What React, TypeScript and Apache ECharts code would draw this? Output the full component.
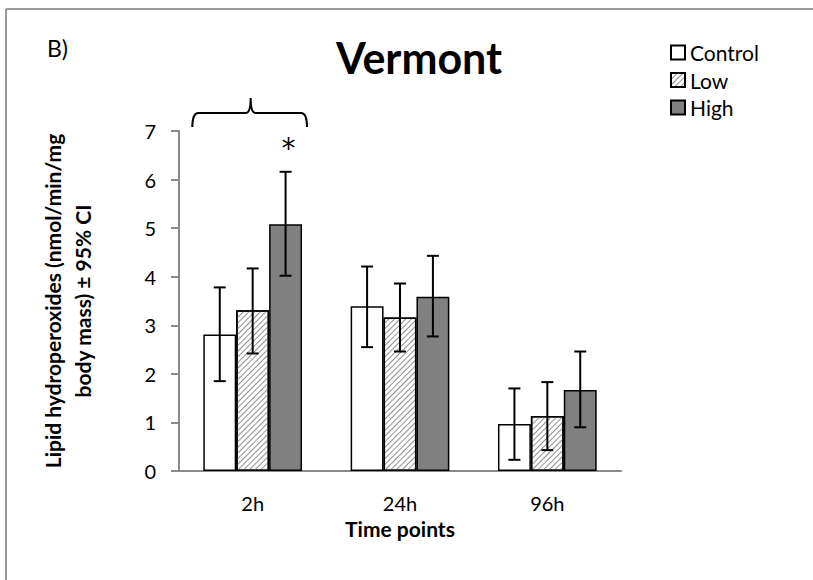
import React, { useEffect, useRef } from "react";
import * as echarts from "echarts";

const categories = ["2h", "24h", "96h"];
const seriesNames = ["Control", "Low", "High"];
const controlMean = [2.81, 3.39, 0.97];
const lowMean = [3.31, 3.16, 1.13];
const highMean = [5.08, 3.59, 1.67];
const controlLower = [1.85, 2.55, 0.23];
const controlUpper = [3.78, 4.21, 1.70];
const lowLower = [2.42, 2.46, 0.43];
const lowUpper = [4.17, 3.86, 1.83];
const highLower = [4.02, 2.77, 0.9];
const highUpper = [6.16, 4.43, 2.46];
const yTicks = [0, 1, 2, 3, 4, 5, 6, 7];

const FONT = "Lato, 'Liberation Sans', sans-serif";
const CAT_GAP = 0.33;

export default function App() {
  const ref = useRef<HTMLDivElement>(null);
  useEffect(() => {
    document.body.style.margin = "0";
    const chart = echarts.init(ref.current!, null, { renderer: "svg" });
    const means = [controlMean, lowMean, highMean];
    const lowers = [controlLower, lowLower, highLower];
    const uppers = [controlUpper, lowUpper, highUpper];
    const fills = ["#ffffff", "#ffffff", "#808080"];

    const barSeries = seriesNames.map((name, i) => ({
      name,
      type: "bar",
      data: means[i],
      barGap: "0%",
      barCategoryGap: "33%",
      itemStyle: {
        color: fills[i],
        borderColor: "#000",
        borderWidth: 1.5,
        decal:
          i === 1
            ? {
                symbol: "rect",
                symbolSize: 1,
                dashArrayX: [[1, 0]],
                dashArrayY: [1, 3],
                rotation: -Math.PI / 4,
                color: "#909090",
              }
            : "none",
      },
    }));

    const errSeries = seriesNames.map((name, i) => ({
      type: "custom",
      name: name + " CI",
      z: 5,
      data: categories.map((_, k) => [k, lowers[i][k], uppers[i][k]]),
      encode: { x: 0, y: [1, 2] },
      renderItem: (params: any, api: any) => {
        const k = api.value(0);
        const lo = api.coord([k, api.value(1)]);
        const hi = api.coord([k, api.value(2)]);
        const band = api.size([1, 0])[0];
        const bw = (band * (1 - CAT_GAP)) / 3;
        const x = lo[0] + (i - 1) * bw;
        const cap = 6;
        const st = { stroke: "#000", lineWidth: 2 };
        return {
          type: "group",
          children: [
            { type: "line", shape: { x1: x, y1: lo[1], x2: x, y2: hi[1] }, style: st },
            { type: "line", shape: { x1: x - cap, y1: lo[1], x2: x + cap, y2: lo[1] }, style: st },
            { type: "line", shape: { x1: x - cap, y1: hi[1], x2: x + cap, y2: hi[1] }, style: st },
          ],
        };
      },
    }));

    const annotation = {
      type: "custom",
      name: "annotation",
      clip: false,
      z: 6,
      data: [[0]],
      renderItem: (params: any, api: any) => {
        const c = api.coord([0, 7]);
        const band = api.size([1, 0])[0];
        const bw = (band * (1 - CAT_GAP)) / 3;
        const x0 = c[0] - 1.5 * bw - 11;
        const x1 = c[0] + 1.5 * bw + 5;
        const xc = c[0] - 2;
        const yh = api.coord([0, 7.37])[1];
        const ye = api.coord([0, 7.08])[1];
        const yp = api.coord([0, 7.68])[1];
        const d = `M${x0},${ye} Q${x0},${yh} ${x0 + 6},${yh} L${xc - 5},${yh} Q${xc},${yh} ${xc},${yp} Q${xc},${yh} ${xc + 5},${yh} L${x1 - 6},${yh} Q${x1},${yh} ${x1},${ye}`;
        const star = api.coord([0, 6.78]);
        return {
          type: "group",
          children: [
            {
              type: "path",
              shape: { pathData: d },
              style: { fill: "none", stroke: "#000", lineWidth: 2 },
            },
            {
              type: "text",
              style: {
                text: "*",
                x: star[0] + bw + 3,
                y: star[1] + 7,
                align: "center",
                verticalAlign: "middle",
                font: `28px 'DejaVu Sans', sans-serif`,
                fill: "#000",
              },
            },
          ],
        };
      },
    };

    chart.setOption({
      animation: false,
      textStyle: { fontFamily: FONT },
      title: {
        text: "Vermont",
        left: 414,
        top: 31,
        textAlign: "center",
        textStyle: { fontSize: 43, fontWeight: "bold", color: "#000", fontFamily: FONT },
      },
      legend: {
        orient: "vertical",
        left: 665,
        top: 37,
        itemWidth: 14,
        itemHeight: 14,
        itemGap: 6.5,
        icon: "rect",
        data: seriesNames,
        textStyle: { fontSize: 21, color: "#000", fontFamily: FONT, padding: [0, 0, 0, 0] },
      },
      grid: { left: 179, right: 192, top: 131, bottom: 109 },
      xAxis: {
        type: "category",
        data: categories,
        name: "Time points",
        nameLocation: "middle",
        nameGap: 47,
        nameMoveOverlap: false,
        nameTextStyle: { fontSize: 21, fontWeight: "bold", color: "#000" },
        axisLine: { lineStyle: { color: "#8a8a8a", width: 2 } },
        axisTick: { show: false },
        axisLabel: { fontSize: 20, color: "#000", margin: 22 },
      },
      yAxis: {
        type: "value",
        min: yTicks[0],
        max: yTicks[yTicks.length - 1],
        interval: 1,
        name: "Lipid hydroperoxides (nmol/min/mg\nbody mass) ± 95% CI",
        nameLocation: "middle",
        nameRotate: 90,
        nameGap: 82,
        nameMoveOverlap: false,
        nameTextStyle: { fontSize: 21, fontWeight: "bold", color: "#000", lineHeight: 30 },
        axisLine: { show: true, lineStyle: { color: "#8a8a8a", width: 2 } },
        axisTick: { show: true, length: 8, lineStyle: { color: "#8a8a8a", width: 2 } },
        splitLine: { show: false },
        axisLabel: { fontSize: 20, color: "#000", margin: 23 },
      },
      graphic: [
        { type: "line", shape: { x1: 6, y1: 9, x2: 6, y2: 580 }, style: { stroke: "#999", lineWidth: 2 } },
        { type: "line", shape: { x1: 6, y1: 9, x2: 813, y2: 9 }, style: { stroke: "#999", lineWidth: 2 } },
        {
          type: "text",
          x: 47,
          y: 48,
          style: { text: "B)", font: `23px ${FONT}`, fill: "#000", verticalAlign: "middle" },
        },
      ],
      series: [...barSeries, ...errSeries, annotation],
    });
    return () => chart.dispose();
  }, []);
  return <div ref={ref} style={{ width: 813, height: 580 }} />;
}
